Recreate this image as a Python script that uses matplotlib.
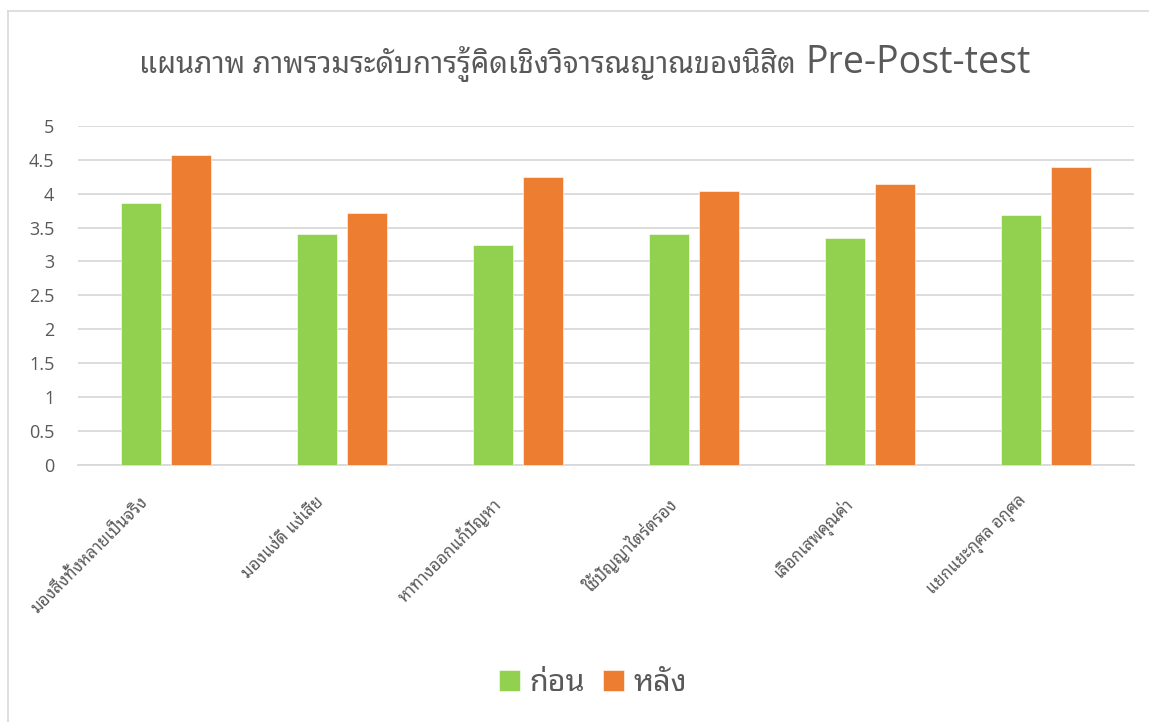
import matplotlib
matplotlib.use('Agg')
import matplotlib.pyplot as plt
from matplotlib.lines import Line2D
import numpy as np

# data
categories = ['มองสิ่งทั้งหลายเป็นจริง', 'มองแง่ดี แง่เสีย', 'หาทางออกแก้ปัญหา',
              'ใช้ปัญญาไตร่ตรอง', 'เลือกเสพคุณค่า', 'แยกแยะกุศล อกุศล']
before = [3.86, 3.40, 3.24, 3.40, 3.35, 3.69]
after = [4.57, 3.71, 4.24, 4.04, 4.14, 4.39]
series_names = ['ก่อน', 'หลัง']
title_th = 'แผนภาพ ภาพรวมระดับการรู้คิดเชิงวิจารณญาณของนิสิต'
title_en = 'Pre-Post-test'

GREEN = '#92D050'
ORANGE = '#ED7D31'
GRID = '#D9D9D9'
TEXT = '#595959'
FONTS = ['Open Sans', 'Noto Sans Thai Looped', 'DejaVu Sans']

plt.rcParams['font.family'] = FONTS

W, H = 1149, 722
fig = plt.figure(figsize=(W / 100, H / 100), dpi=100)
ax = fig.add_axes([78 / W, 1 - 464.7 / H, 1056 / W, 338.7 / H])

x = np.arange(len(categories))
bw = 0.222
off = 0.142
ax.bar(x - off, before, bw, color=GREEN, edgecolor='white', linewidth=0.4,
       label=series_names[0], zorder=3)
ax.bar(x + off, after, bw, color=ORANGE, edgecolor='white', linewidth=0.4,
       label=series_names[1], zorder=3)

ax.set_xlim(-0.5, len(categories) - 0.5)
ax.set_ylim(0, 5)
ax.set_yticks(np.arange(0, 5.01, 0.5))
ax.set_yticklabels(['0', '0.5', '1', '1.5', '2', '2.5', '3', '3.5', '4', '4.5', '5'])
ax.yaxis.grid(True, color=GRID, linewidth=1.3, zorder=0)
ax.set_axisbelow(True)
for s in ['top', 'right', 'left']:
    ax.spines[s].set_visible(False)
ax.spines['bottom'].set_color(GRID)
ax.spines['bottom'].set_linewidth(1.3)
ax.tick_params(axis='y', length=0, pad=17, labelsize=13, labelcolor=TEXT)
ax.tick_params(axis='x', length=0, pad=21)

ax.set_xticks(x - 0.15)
ax.set_xticklabels(categories, rotation=45, ha='right', va='top',
                   rotation_mode='anchor', fontsize=12, color=TEXT)

# title: thai part + latin part
fig.text(139 / W, 1 - 73 / H, title_th, ha='left', va='baseline',
         fontsize=21, color=TEXT, fontweight='light',
         family=['Noto Sans Thai Looped', 'Open Sans'])
fig.text(805 / W, 1 - 73 / H, title_en, ha='left', va='baseline',
         fontsize=27, color=TEXT, family=['Open Sans'])

leg = fig.legend(loc='center', bbox_to_anchor=(593 / W, 1 - 683 / H), ncol=2,
                 frameon=False, handlelength=0.69, handleheight=0.69,
                 handletextpad=0.29, columnspacing=0.6,
                 prop={'size': 22, 'weight': 'bold'})
for t in leg.get_texts():
    t.set_color(TEXT)

# chart area border
fig.add_artist(Line2D([7.5 / W, 7.5 / W], [0, 1 - 11 / H], color=GRID, linewidth=1.2))
fig.add_artist(Line2D([7.5 / W, 1], [1 - 11 / H, 1 - 11 / H], color=GRID, linewidth=1.2))

fig.savefig('out.png', dpi=100)
